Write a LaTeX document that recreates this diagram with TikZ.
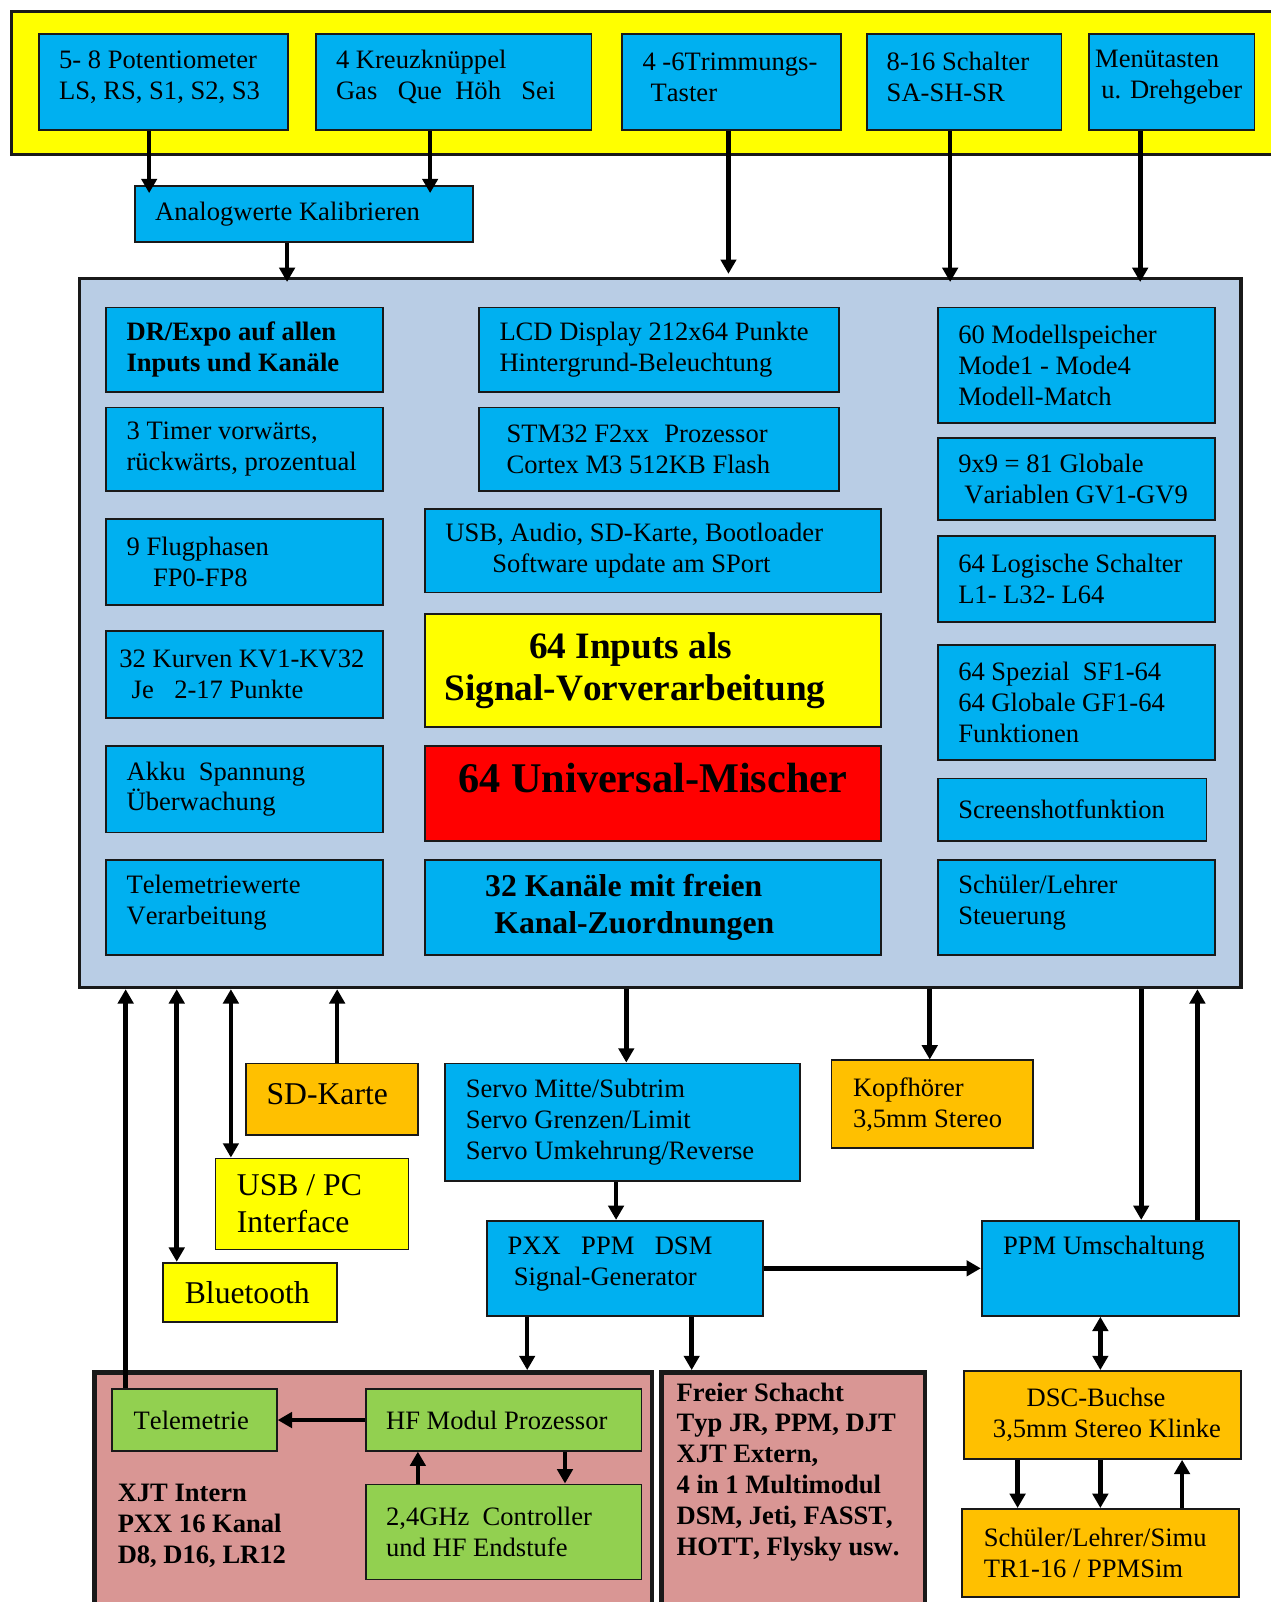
\documentclass[tikz,border=0pt]{standalone}
\usepackage{fontspec}
\setmainfont[Kerning=Off]{Liberation Serif}
\usetikzlibrary{arrows.meta}
\definecolor{boxblue}{HTML}{00B0F0}
\definecolor{boxyellow}{HTML}{FFFF00}
\definecolor{boxorange}{HTML}{FFC000}
\definecolor{boxgreen}{HTML}{92D050}
\definecolor{boxpink}{HTML}{D99694}
\definecolor{boxred}{HTML}{FF0000}
\definecolor{mainfill}{HTML}{B9CDE5}
\tikzset{
  blk/.style={draw=black!90, line width=1.8pt, rectangle, anchor=north west, align=flush left, inner ysep=0pt, font=\fontsize{26pt}{30.3pt}\selectfont},
  bluebox/.style={blk, fill=boxblue},
  yellowbox/.style={blk, fill=boxyellow},
  orangebox/.style={blk, fill=boxorange},
  greenbox/.style={blk, fill=boxgreen},
  pinkbox/.style={blk, fill=boxpink, line width=4.5pt, font=\fontsize{26pt}{30.2pt}\selectfont\bfseries},
  boldtxt/.style={font=\fontsize{26pt}{30.3pt}\selectfont\bfseries},
  bigtxt/.style={font=\fontsize{31pt}{36pt}\selectfont},
  link/.style={line width=4.5pt},
}

\begin{document}
\begin{tikzpicture}[x=1pt, y=-1pt, >={Triangle[length=14pt,width=15pt]}]
\useasboundingbox (0,0) rectangle (1244,1568);

% input row
\node[yellowbox, line width=2.5pt, minimum width=1260pt, minimum height=140pt, inner sep=0pt] (bar) at (10,10) {};
\node[bluebox, text width=204pt, inner xsep=20pt, minimum height=94pt, text height=9pt] (pot) at (37,32) {5- 8 Potentiometer\\LS, RS, S1, S2, S3};
\node[bluebox, text width=230pt, inner xsep=20pt, minimum height=94pt, text height=9pt] (stick) at (308,32) {4 Kreuzknüppel\\Gas\hspace{20pt}Que\hspace{13pt}Höh\hspace{20pt}Sei};
\node[bluebox, text width=174pt, inner xsep=20pt, minimum height=94pt, text height=9pt] (trim) at (608,32) {\mbox{4 -6Trimmungs-}\\\hspace*{8pt}Taster};
\node[bluebox, text width=152pt, inner xsep=19pt, minimum height=94pt, text height=9pt] (switch) at (848,32) {8-16 Schalter\\SA-SH-SR};
\node[bluebox, text width=150pt, inner xsep=6pt, minimum height=94pt, text height=9pt] (menu) at (1065,32) {Menütasten\\\hspace*{6pt}u. Drehgeber};
\node[bluebox, text width=291pt, inner xsep=20pt, minimum height=55pt] (ana) at (131,181) {Analogwerte Kalibrieren};

% transmitter
\node[blk, fill=mainfill, line width=3.2pt, minimum width=1137pt, minimum height=694pt, inner sep=0pt] (main) at (76,271) {};

\node[bluebox, boldtxt, text width=231pt, inner xsep=20pt, minimum height=83pt] (expo) at (103,300) {DR/Expo auf allen\\Inputs und Kanäle};
\node[bluebox, text width=231pt, inner xsep=20pt, minimum height=82pt] (timer) at (103,398) {3 Timer vorwärts,\\rückwärts, prozentual};
\node[bluebox, text width=231pt, inner xsep=20pt, minimum height=84pt] (phase) at (103,507) {9 Flugphasen\\\hspace*{26pt}FP0-FP8};
\node[bluebox, text width=245pt, inner xsep=13pt, minimum height=85pt] (curve) at (103,617) {32 Kurven KV1-KV32\\\hspace*{12pt}Je\hspace{20pt}2-17 Punkte};
\node[bluebox, text width=231pt, inner xsep=20pt, minimum height=85pt] (akku) at (103,729) {Akku\hspace{13pt}Spannung\\Überwachung};
\node[bluebox, text width=231pt, inner xsep=20pt, minimum height=93pt, text height=9pt] (telval) at (103,841) {Telemetriewerte\\Verarbeitung};

\node[bluebox, text width=312pt, inner xsep=20pt, minimum height=83pt] (lcd) at (468,300) {LCD Display 212x64 Punkte\\Hintergrund-Beleuchtung};
\node[bluebox, text width=298pt, inner xsep=27pt, minimum height=82pt] (cpu) at (468,398) {STM32 F2xx\hspace{15pt}Prozessor\\Cortex M3 512KB Flash};
\node[bluebox, text width=406pt, inner xsep=20pt, minimum height=82pt] (usb) at (415,497) {USB, Audio, SD-Karte, Bootloader\\\hspace*{46pt}Software update am SPort};
\node[yellowbox, text width=408pt, inner xsep=19pt, minimum height=111pt, font=\fontsize{36.5pt}{42pt}\selectfont\bfseries] (inp) at (415,600) {\hspace*{83pt}64 Inputs als\\Signal-Vorverarbeitung};
\node[blk, fill=boxred, align=center, minimum width=446pt, minimum height=93pt, text depth=30pt, font=\fontsize{41.4pt}{48pt}\selectfont\bfseries] (mix) at (415,729) {64 Universal-Mischer};
\node[bluebox, text width=328pt, inner xsep=59pt, minimum height=93pt, font=\fontsize{31pt}{36pt}\selectfont\bfseries] (chan) at (415,841) {32 Kanäle mit freien\\\hspace*{9pt}Kanal-Zuordnungen};

\node[bluebox, text width=231pt, inner xsep=20pt, minimum height=113pt] (mem) at (917,300) {60 Modellspeicher\\Mode1 - Mode4\\Modell-Match};
\node[bluebox, text width=231pt, inner xsep=20pt, minimum height=80pt] (gvar) at (917,428) {9x9 = 81 Globale\\\hspace*{6pt}Variablen GV1-GV9};
\node[bluebox, text width=231pt, inner xsep=20pt, minimum height=84pt] (logic) at (917,524) {64 Logische Schalter\\L1- L32- L64};
\node[bluebox, text width=231pt, inner xsep=20pt, minimum height=113pt] (func) at (917,630) {64 Spezial\hspace{13pt}SF1-64\\64 Globale GF1-64\\Funktionen};
\node[bluebox, text width=223pt, inner xsep=20pt, minimum height=61pt] (shot) at (917,761) {Screenshotfunktion};
\node[bluebox, text width=231pt, inner xsep=20pt, minimum height=93pt, text height=9pt] (teach) at (917,841) {Schüler/Lehrer\\Steuerung};

% outputs and interfaces
\node[orangebox, bigtxt, text width=128pt, inner xsep=20pt, minimum height=70pt, text height=11pt] (sd) at (240,1040) {SD-Karte};
\node[yellowbox, bigtxt, text width=147pt, inner xsep=21pt, minimum height=89pt] (usbpc) at (210,1133) {USB / PC\\Interface};
\node[yellowbox, bigtxt, text width=128pt, inner xsep=21pt, minimum height=58pt] (bt) at (159,1235) {Bluetooth};
\node[bluebox, text width=307pt, inner xsep=20pt, minimum height=115pt] (servo) at (435,1040) {Servo Mitte/Subtrim\\Servo Grenzen/Limit\\Servo Umkehrung/Reverse};
\node[orangebox, text width=155pt, inner xsep=21pt, minimum height=86pt] (phone) at (813,1037) {Kopfhörer\\3,5mm Stereo};
\node[bluebox, text width=230pt, inner xsep=20pt, minimum height=93pt, text height=8pt] (pxx) at (476,1194) {PXX\hspace{20pt}PPM\hspace{20pt}DSM\\\hspace*{6pt}Signal-Generator};
\node[bluebox, text width=210pt, inner xsep=21pt, minimum height=93pt, text depth=45pt] (ppm) at (960,1194) {PPM Umschaltung};
\node[orangebox, text width=239pt, inner xsep=16pt, minimum height=86pt] (dsc) at (943,1341) {\hspace*{45pt}DSC-Buchse\\\hspace*{12pt}3,5mm Stereo Klinke};
\node[orangebox, text width=229pt, inner xsep=21pt, minimum height=86pt] (simu) at (941,1476) {Schüler/Lehrer/Simu\\TR1-16 / PPMSim};

% module bays
\node[pinkbox, text width=500pt, inner xsep=23pt, minimum height=300pt] (xjt) at (90,1341) {XJT Intern\\PXX 16 Kanal\\D8, D16, LR12};
\node[pinkbox, text width=228pt, inner xsep=15pt, minimum height=300pt, text depth=262pt] (free) at (645,1341) {Freier Schacht\\Typ JR, PPM, DJT\\XJT Extern,\\4 in 1 Multimodul\\DSM, Jeti, FASST,\\HOTT, Flysky usw.};
\node[greenbox, text width=119pt, inner xsep=21pt, minimum height=60pt] (tele) at (109,1359) {Telemetrie};
\node[greenbox, text width=230pt, inner xsep=20pt, minimum height=60pt] (hf) at (357,1359) {HF Modul Prozessor};
\node[greenbox, text width=230pt, inner xsep=20pt, minimum height=93pt] (rf) at (357,1452) {2,4GHz\hspace{13pt}Controller\\und HF Endstufe};

% connections
\draw[link,->,shorten >=-8pt] (pot.south -| 146,0) -- (ana.north -| 146,0);
\draw[link,->,shorten >=-8pt] (stick.south -| 421,0) -- (ana.north -| 421,0);
\draw[link,->,shorten >=-5pt] (ana.south -| 281,0) -- (main.north -| 281,0);
\draw[link,->,shorten >=3pt] (trim.south -| 713,0) -- (main.north -| 713,0);
\draw[link,->,shorten >=-5pt] (switch.south -| 930,0) -- (main.north -| 930,0);
\draw[link,->,shorten >=-5pt] (menu.south -| 1116,0) -- (main.north -| 1116,0);

\draw[link,->] (tele.north -| 123,0) -- (main.south -| 123,0);
\draw[link,<->] (bt.north -| 173,0) -- (main.south -| 173,0);
\draw[link,<->] (usbpc.north -| 226,0) -- (main.south -| 226,0);
\draw[link,->] (sd.north -| 330,0) -- (main.south -| 330,0);
\draw[link,->] (main.south -| 613,0) -- (servo.north -| 613,0);
\draw[link,->] (main.south -| 910,0) -- (phone.north -| 910,0);
\draw[link,->] (main.south -| 1117,0) -- (ppm.north -| 1117,0);
\draw[link,->] (ppm.north -| 1172,0) -- (main.south -| 1172,0);

\draw[link,->] (servo.south -| 603,0) -- (pxx.north -| 603,0);
\draw[link,->] (pxx.east) -- (ppm.west);
\draw[link,->] (pxx.south -| 516,0) -- (xjt.north -| 516,0);
\draw[link,->] (pxx.south -| 677,0) -- (free.north -| 677,0);
\draw[link,<->] (ppm.south -| 1077,0) -- (dsc.north -| 1077,0);
\draw[link,->] (dsc.south -| 996,0) -- (simu.north -| 996,0);
\draw[link,->] (dsc.south -| 1077,0) -- (simu.north -| 1077,0);
\draw[link,->] (simu.north -| 1157,0) -- (dsc.south -| 1157,0);

\draw[link,->] (hf.west) -- (tele.east);
\draw[link,->] (rf.north -| 409,0) -- (hf.south -| 409,0);
\draw[link,->] (hf.south -| 553,0) -- (rf.north -| 553,0);

\end{tikzpicture}
\end{document}
